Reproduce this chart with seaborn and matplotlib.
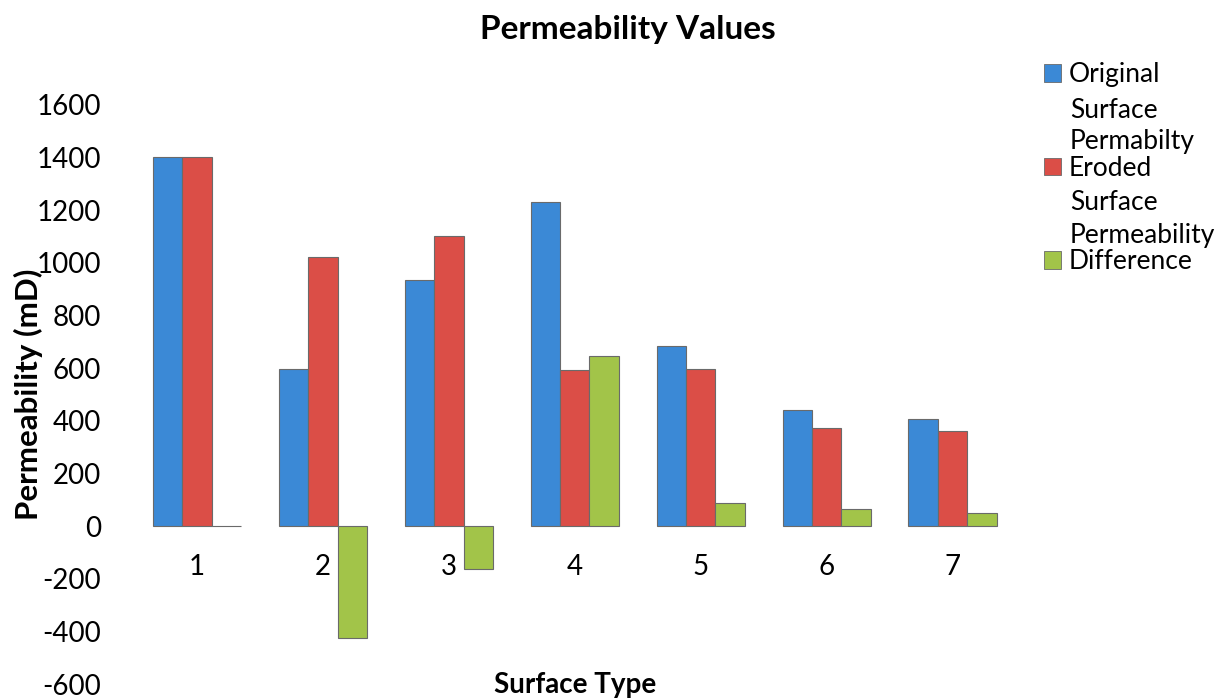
import pandas as pd
import numpy as np
import matplotlib.pyplot as plt
import matplotlib.patches as mpatches
import seaborn as sns

# values (mD)
SURFACE_TYPES = ["1", "2", "3", "4", "5", "6", "7"]
ORIGINAL = [1400, 595, 935, 1230, 682, 441, 408]
ERODED = [1400, 1022, 1100, 593, 597, 373, 362]
DIFFERENCE = [0, -427, -165, 645, 88, 63, 48]

SERIES = ["Original", "Eroded", "Difference"]
BLUE = "#3B89D6"
RED = "#DB4E47"
GREEN = "#A2C449"
EDGE = "#6A6A6A"
Y_TICKS = list(range(-600, 1601, 200))

sns.set_theme(style="white")
plt.rcParams["font.family"] = ["Lato", "DejaVu Sans"]
plt.rcParams["text.color"] = "black"
plt.rcParams["axes.labelcolor"] = "black"
plt.rcParams["xtick.color"] = "black"
plt.rcParams["ytick.color"] = "black"

df = pd.DataFrame({
    "type": SURFACE_TYPES * 3,
    "value": ORIGINAL + ERODED + DIFFERENCE,
    "series": [s for s in SERIES for _ in SURFACE_TYPES],
})

fig = plt.figure(figsize=(12.19, 6.98), dpi=100)
ax = fig.add_axes([0.110, 0.020, 0.723, 0.830])

sns.barplot(data=df, x="type", y="value", hue="series", hue_order=SERIES,
            palette=[BLUE, RED, GREEN], saturation=1, width=0.7,
            edgecolor=EDGE, linewidth=0.8, ax=ax, legend=False)

ax.set_ylim(-600, 1600)
ax.set_xlim(-0.5, len(SURFACE_TYPES) - 0.5)
ax.set_yticks(Y_TICKS)
ax.set_yticklabels([str(t) for t in Y_TICKS])
for s in ax.spines.values():
    s.set_visible(False)
ax.spines["bottom"].set_position(("data", 0))
ax.tick_params(axis="y", length=0, pad=24, labelsize=20)
ax.tick_params(axis="x", length=0, pad=20, labelsize=20)

ax.set_xlabel("Surface Type", fontsize=20, fontweight="bold")
ax.xaxis.set_label_coords(0.5, -0.002)
ax.xaxis.label.set_va("center")
ax.set_ylabel("Permeability (mD)", fontsize=22.5, fontweight="bold")
ax.yaxis.set_label_coords(-0.120, 0.5)
ax.yaxis.label.set_va("center")

fig.text(628 / 1219, 0.958, "Permeability Values", fontsize=24,
         fontweight="bold", ha="center", va="center")

# legend, with the wrapped label lines overflowing like the original
handles = [mpatches.Patch(facecolor=c, edgecolor=EDGE, linewidth=0.6)
           for c in [BLUE, RED, GREEN]]
labels = ["Original", "Eroded", "Difference"]
leg = fig.legend(handles, labels, loc="upper left",
                 bbox_to_anchor=(1044 / 1219, 1 - 62 / 698),
                 frameon=False, fontsize=19, handlelength=0.65,
                 handleheight=0.65, handletextpad=0.3, labelspacing=2.6,
                 borderaxespad=0, borderpad=0)
extra = [("Surface", 110), ("Permabilty", 142),
         ("Surface", 202), ("Permeability", 235)]
for txt, ypx in extra:
    fig.text(1070 / 1219, 1 - ypx / 698, txt, fontsize=19,
             ha="left", va="center")

fig.savefig("out.png", dpi=100, facecolor="white")
